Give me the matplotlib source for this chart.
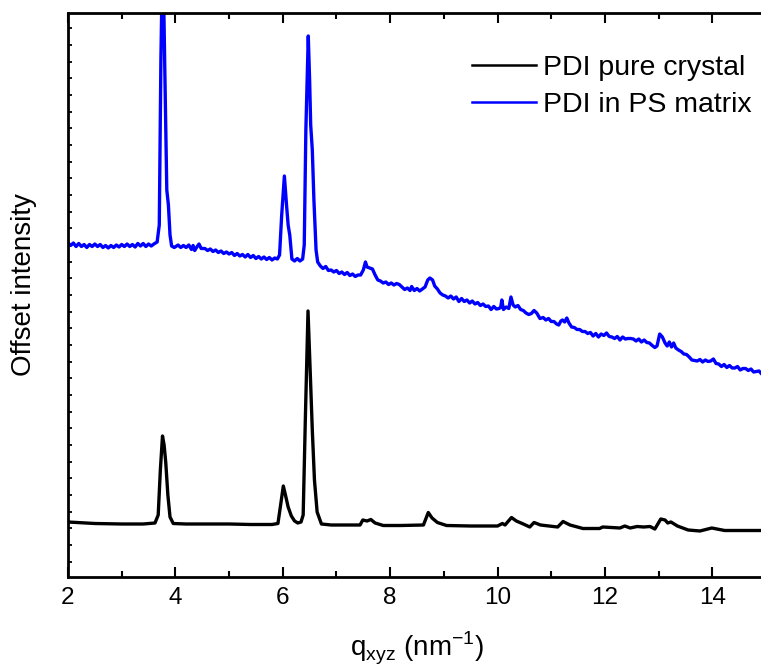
import matplotlib
matplotlib.use("Agg")
import matplotlib.pyplot as plt
from matplotlib.ticker import MultipleLocator, FixedLocator, NullFormatter
import numpy as np

plt.rcParams["font.family"] = ["Liberation Sans", "DejaVu Sans"]

# Scattering vector q (nm^-1) and offset intensities (a.u.)
crystal_q = [2.0, 2.5, 3.0, 3.4, 3.62, 3.68, 3.72, 3.76, 3.79, 3.82, 3.86, 3.90, 3.96,
             4.2, 4.6, 5.0, 5.4, 5.8, 5.91, 5.96, 6.01, 6.05, 6.10, 6.16, 6.22, 6.28,
             6.34, 6.38, 6.42, 6.47, 6.51, 6.55, 6.59, 6.64, 6.72, 6.9, 7.2, 7.44, 7.49,
             7.57, 7.64, 7.72, 7.87, 8.2, 8.62, 8.71, 8.78, 8.88, 9.05, 9.5, 10.0, 10.09,
             10.14, 10.26, 10.35, 10.48, 10.6, 10.68, 10.8, 11.12, 11.22, 11.35, 11.59,
             11.9, 11.96, 12.28, 12.37, 12.47, 12.6, 12.72, 12.84, 12.93, 13.04, 13.12,
             13.17, 13.23, 13.35, 13.55, 13.77, 13.99, 14.23, 14.6, 15.0]
crystal_int = [55, 53.5, 53, 53, 54, 62, 107, 141, 132, 115, 82, 60, 53.5,
               53, 53, 53, 52.5, 52.5, 53.5, 72, 91, 82, 70, 61, 56, 54,
               55, 62, 157, 266, 207, 147, 97, 65, 53, 52, 52, 52, 57,
               56, 57.5, 54, 51.5, 51.5, 52, 64.5, 59, 54.5, 51.5, 51, 51, 53.5,
               52, 59.5, 56, 53, 50, 54.5, 52, 50, 55.5, 52, 48.5,
               48.5, 50, 49, 51, 49, 50.5, 50, 50.5, 48, 58, 57,
               54, 55, 51, 47, 46, 49, 46.5, 46.5, 46.5]

matrix_q = [2.00, 2.05, 2.10, 2.15, 2.20, 2.25, 2.30, 2.35, 2.40, 2.45, 2.50, 2.55, 2.60,
            2.65, 2.70, 2.75, 2.80, 2.85, 2.90, 2.95, 3.00, 3.05, 3.10, 3.15, 3.20, 3.25,
            3.30, 3.35, 3.40, 3.45, 3.50, 3.55, 3.60, 3.66, 3.70, 3.73, 3.765, 3.80, 3.84,
            3.87, 3.90, 3.93, 3.98, 4.05, 4.10, 4.15, 4.20, 4.25, 4.30, 4.33, 4.36, 4.40,
            4.44, 4.48, 4.55, 4.60, 4.65, 4.70, 4.75, 4.80, 4.85, 4.90, 4.95, 5.00, 5.05,
            5.10, 5.15, 5.20, 5.25, 5.30, 5.35, 5.40, 5.45, 5.50, 5.55, 5.60, 5.65, 5.70,
            5.75, 5.80, 5.85, 5.90, 5.94, 5.98, 6.03, 6.07, 6.10, 6.13, 6.17, 6.22, 6.27,
            6.32, 6.37, 6.40, 6.43, 6.475, 6.50, 6.52, 6.55, 6.58, 6.62, 6.65, 6.70, 6.75,
            6.80, 6.85, 6.90, 6.95, 7.00, 7.05, 7.10, 7.15, 7.20, 7.25, 7.30, 7.35, 7.40,
            7.45, 7.50, 7.54, 7.57, 7.62, 7.67, 7.72, 7.77, 7.82, 7.87, 7.92, 7.97, 8.02,
            8.07, 8.12, 8.17, 8.22, 8.27, 8.32, 8.37, 8.40, 8.45, 8.50, 8.55, 8.60, 8.65,
            8.70, 8.74, 8.79, 8.83, 8.88, 8.93, 8.98, 9.03, 9.08, 9.13, 9.18, 9.23, 9.28,
            9.33, 9.38, 9.43, 9.48, 9.53, 9.58, 9.63, 9.68, 9.73, 9.78, 9.83, 9.88, 9.93,
            9.98, 10.03, 10.06, 10.08, 10.11, 10.16, 10.21, 10.25, 10.29, 10.33, 10.38,
            10.43, 10.48, 10.53, 10.58, 10.63, 10.68, 10.73, 10.79, 10.85, 10.90, 10.95,
            11.00, 11.05, 11.10, 11.14, 11.18, 11.21, 11.25, 11.29, 11.33, 11.38, 11.43,
            11.48, 11.53, 11.58, 11.63, 11.68, 11.73, 11.78, 11.83, 11.88, 11.93, 11.98,
            12.03, 12.08, 12.13, 12.18, 12.23, 12.28, 12.33, 12.38, 12.43, 12.48, 12.53,
            12.58, 12.63, 12.68, 12.73, 12.78, 12.83, 12.88, 12.93, 12.97, 13.02, 13.07,
            13.12, 13.16, 13.20, 13.24, 13.28, 13.32, 13.37, 13.42, 13.47, 13.52, 13.57,
            13.62, 13.67, 13.72, 13.77, 13.82, 13.87, 13.92, 13.97, 14.02, 14.07, 14.12,
            14.17, 14.22, 14.27, 14.32, 14.37, 14.42, 14.47, 14.52, 14.57, 14.62, 14.67,
            14.72, 14.77, 14.82, 14.87, 14.92, 14.97]
matrix_int = [334, 331.5, 334, 330.5, 333.5, 330.5, 332.5, 329.5, 332.5, 330.5, 333, 330.5, 332.5,
              329.5, 331.5, 329, 331.5, 329.5, 332, 330, 332.5, 330.5, 333, 330.5, 332.5, 330,
              333.5, 331, 333.5, 330.5, 333, 331, 333, 335, 352, 517, 637, 517, 387,
              372, 342, 331, 329.5, 332, 329.5, 331.5, 329.5, 332, 327.5, 331.5, 326.5, 330,
              333, 328.5, 328.5, 326.5, 328, 325.5, 327, 324.5, 326, 323.5, 325, 323, 324.5,
              321.5, 323.5, 321, 322.5, 320, 322.5, 319.5, 321.5, 318.5, 320.5, 318, 320, 317.5,
              319.5, 317, 319, 318, 322, 362, 401, 372, 352, 342, 318, 316, 318.5,
              316, 318, 332, 447, 541, 497, 452, 427, 377, 327, 315, 311, 308.5,
              310.5, 306.5, 307, 305, 306.5, 303.5, 305, 302.5, 304.5, 301.5, 303, 300.5, 302,
              302, 307, 315, 310, 309, 308, 302, 297, 296, 294, 295, 292.5, 294,
              292, 293.5, 292.5, 290, 287.5, 289, 286.5, 290.5, 286.5, 288.5, 286, 288, 290,
              297, 299, 297, 291, 288, 284, 282, 281, 279, 281, 278, 280, 275.5,
              278.5, 275.5, 277, 274, 276, 273, 274.5, 271.5, 273, 270.5, 271, 267.5, 270.5,
              268, 268.5, 270, 277, 267.5, 270, 268.5, 280, 272, 270, 271.5,
              267.5, 266.5, 264, 262.5, 263.5, 266.5, 264, 258.5, 259.5, 257, 258.5,
              255.5, 255.5, 253, 252, 256, 257, 255, 259, 254, 250, 249.5,
              247.5, 247.5, 245.5, 245.5, 243.5, 244.5, 241, 243.5, 240, 243, 241.5,
              244, 240.5, 240, 238.5, 240.5, 237, 240, 238, 238.5, 238.5, 238,
              236, 238, 235, 237, 234.5, 234, 231.5, 229.5, 231, 243, 240,
              234, 231, 235, 230, 234, 229, 227, 225.5, 223, 222.5, 220,
              217, 216.5, 216, 217.5, 215, 217, 215.5, 216, 218, 213.5, 213,
              210.5, 212.5, 209.5, 211.5, 209, 209, 210.5, 207, 208.5, 208.5, 206.5,
              208, 205, 205.5, 206, 203, 202]

series_labels = ["PDI pure crystal", "PDI in PS matrix"]
x_label = r"q$_\mathregular{xyz}$ (nm$^\mathregular{-1}$)"
y_label = "Offset intensity"

W, H = 761, 667
fig = plt.figure(figsize=(W / 100, H / 100), dpi=100)
ax = fig.add_axes([68 / W, 1 - 577 / H, 698 / W, 564 / H])

ax.plot(crystal_q, crystal_int, color="black", lw=2.4, solid_joinstyle="round",
        label=series_labels[0])
ax.plot(matrix_q, matrix_int, color="#0000ff", lw=2.4, solid_joinstyle="round",
        label=series_labels[1])

ax.set_xlim(2, 15)
ax.set_ylim(0, 564)

ax.xaxis.set_major_locator(MultipleLocator(2))
ax.xaxis.set_minor_locator(MultipleLocator(1))
ax.yaxis.set_major_locator(FixedLocator(np.arange(15.3, 560, 16.67)))
ax.yaxis.set_major_formatter(NullFormatter())

ax.tick_params(axis="x", which="major", direction="in", length=7.5, width=1.5,
               top=True, labelsize=17.5, pad=7)
ax.tick_params(axis="x", which="minor", direction="in", length=4, width=1.5, top=True)
ax.tick_params(axis="y", which="major", direction="in", length=3, width=1.3,
               right=True)
for s in ax.spines.values():
    s.set_linewidth(2)

fig.text(24 / W, 1 - 285 / H, y_label, rotation=90, ha="center", va="center",
         fontsize=20)
fig.text(417 / W, 1 - 648 / H, x_label, ha="center", va="center", fontsize=20)

leg = ax.legend(loc="upper left", bbox_to_anchor=(472 / W, 1 - 55 / H),
                bbox_transform=fig.transFigure, frameon=False, fontsize=20.5,
                handlelength=2.25, handletextpad=0.25, borderpad=0,
                borderaxespad=0, labelspacing=0.38)
for ln in leg.get_lines():
    ln.set_linewidth(1.8)

fig.savefig("out.png", dpi=100)
